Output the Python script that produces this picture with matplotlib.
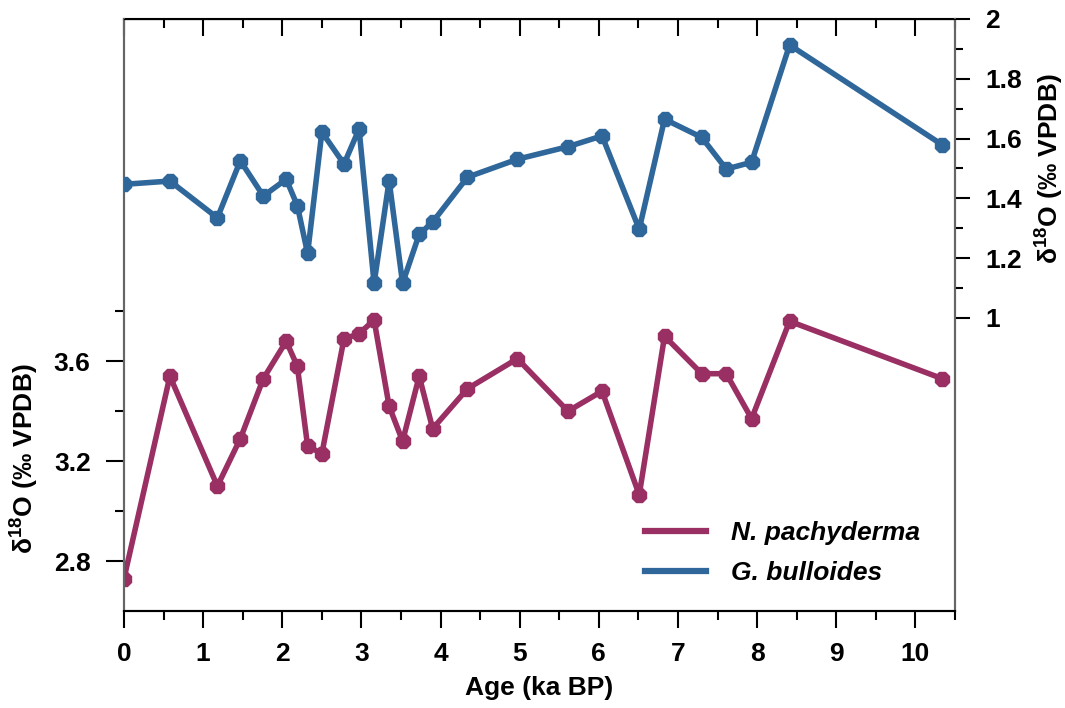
import matplotlib
matplotlib.use("Agg")
import matplotlib.pyplot as plt
from matplotlib.lines import Line2D
from matplotlib.ticker import MultipleLocator, FixedLocator

plt.rcParams['font.family'] = ['Liberation Sans', 'DejaVu Sans']
plt.rcParams['font.weight'] = 'bold'
plt.rcParams['mathtext.default'] = 'regular'

# age (ka BP), shared by both records
age = [0.0, 0.58, 1.18, 1.47, 1.76, 2.05, 2.19, 2.32, 2.50, 2.78, 2.97, 3.16, 3.35,
       3.52, 3.73, 3.90, 4.34, 4.97, 5.61, 6.04, 6.51, 6.83, 7.30, 7.61, 7.93, 8.41, 10.34]

# N. pachyderma d18O (left axis)
npach = [2.73, 3.54, 3.10, 3.29, 3.53, 3.68, 3.58, 3.26, 3.23, 3.69, 3.71, 3.765, 3.42,
         3.28, 3.54, 3.33, 3.49, 3.61, 3.40, 3.48, 3.065, 3.70, 3.55, 3.55, 3.37, 3.76, 3.53]

# G. bulloides d18O (right axis)
gbull = [1.447, 1.458, 1.335, 1.526, 1.408, 1.464, 1.376, 1.216, 1.622, 1.515, 1.632, 1.116, 1.459,
         1.116, 1.280, 1.321, 1.471, 1.531, 1.573, 1.609, 1.297, 1.665, 1.604, 1.498, 1.521, 1.913, 1.579]

red = '#9A2F63'
blue = '#2F679B'
fs = 19

fig = plt.figure(figsize=(10.65, 7.08), dpi=100)
ax = fig.add_axes([124/1065, 1-611/708, 831/1065, 592/708])
ax2 = ax.twinx()

ax.plot(age, npach, color=red, lw=4, marker='8', ms=11, zorder=3)
ax2.plot(age, gbull, color=blue, lw=4, marker='8', ms=11, zorder=3)

ax.set_xlim(0, 10.5)
ax.set_ylim(2.6, 4.97)
ax2.set_ylim(0.02, 2.0)

ax.set_xticks(range(11))
ax.xaxis.set_minor_locator(MultipleLocator(0.5))
ax.set_yticks([2.8, 3.2, 3.6])
ax.yaxis.set_minor_locator(FixedLocator([3.0, 3.4, 3.8]))
ax2.set_yticks([1, 1.2, 1.4, 1.6, 1.8, 2])
ax2.set_yticklabels(['1', '1.2', '1.4', '1.6', '1.8', '2'])
ax2.yaxis.set_minor_locator(FixedLocator([1.1, 1.3, 1.5, 1.7, 1.9]))

ax.tick_params(axis='x', which='major', length=12.5, width=1.5, labelsize=fs, pad=10)
ax.tick_params(axis='y', which='major', length=13, width=1.5, labelsize=fs, pad=11)
ax.tick_params(axis='both', which='minor', length=6.5, width=1.5)
ax2.tick_params(axis='y', which='major', length=11, width=1.5, labelsize=fs, pad=11)
ax2.tick_params(axis='y', which='minor', length=6, width=1.5)

top = ax.secondary_xaxis('top')
top.set_xticks(range(11))
top.xaxis.set_minor_locator(MultipleLocator(0.5))
top.tick_params(which='major', direction='in', length=12, width=1.5, labeltop=False)
top.tick_params(which='minor', direction='in', length=6.5, width=1.5)
top.spines['top'].set_linewidth(1.5)

for a in (ax, ax2):
    a.spines['left'].set_color('#666666')
    a.spines['right'].set_color('#666666')
    a.spines['bottom'].set_linewidth(1.5)
    a.spines['left'].set_linewidth(1.5)
    a.spines['right'].set_linewidth(1.5)

ax.set_xlabel('Age (ka BP)', fontsize=fs, fontweight='bold', labelpad=7)
ax.set_ylabel('δ$^{18}$O (‰ VPDB)', fontsize=fs, fontweight='bold')
ax.yaxis.set_label_coords(-0.100, 0.258)
ax2.set_ylabel('δ$^{18}$O (‰ VPDB)', fontsize=fs, fontweight='bold')
ax2.yaxis.set_label_coords(1.095, 0.747)

handles = [Line2D([], [], color=red, lw=4.5), Line2D([], [], color=blue, lw=4.5)]
leg = ax.legend(handles, ['N. pachyderma', 'G. bulloides'], loc='upper left',
                bbox_to_anchor=(0.627, 0.152), frameon=False, borderpad=0,
                borderaxespad=0, handlelength=2.3, handletextpad=0.95,
                labelspacing=0.6,
                prop={'size': fs, 'weight': 'bold', 'style': 'italic'})

fig.savefig('out.png', dpi=100)
